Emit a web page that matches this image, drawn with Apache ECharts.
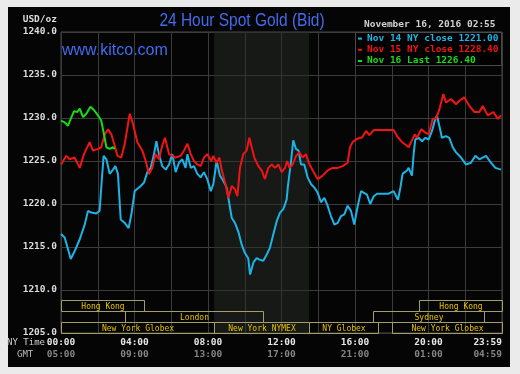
<!DOCTYPE html>
<html>
<head>
<meta charset="utf-8">
<script src="https://cdn.jsdelivr.net/npm/echarts@6/dist/echarts.min.js"></script>
<style>html,body{margin:0;padding:0;background:#ebebeb;}#c{width:520px;height:374px;}</style>
</head>
<body>
<div id="c"></div>
<script>
// ---- data ----
const nov14 = [
[0.00,1216.5],[0.20,1216.1],[0.53,1213.6],[0.74,1214.5],[1.02,1215.9],[1.29,1217.6],[1.47,1219.2],[1.65,1219.0],[1.92,1218.9],[2.10,1219.2],[2.19,1221.9],[2.32,1225.6],[2.47,1225.2],[2.65,1223.5],[2.83,1224.0],[2.96,1224.4],[3.10,1223.5],[3.25,1218.2],[3.47,1217.8],[3.68,1217.2],[3.83,1218.8],[4.01,1221.5],
[4.34,1222.1],[4.52,1222.5],[4.70,1223.7],[4.88,1224.2],[5.06,1225.8],[5.19,1227.3],[5.33,1225.8],[5.51,1224.4],[5.70,1224.0],[5.88,1224.6],[6.06,1225.8],[6.24,1223.7],[6.42,1224.8],[6.60,1225.2],[6.78,1224.2],[6.88,1225.8],[7.06,1224.2],[7.24,1224.4],[7.42,1223.5],[7.60,1223.1],[7.78,1223.7],[7.96,1222.9],[8.15,1221.5],
[8.29,1222.3],[8.47,1225.0],[8.65,1223.3],[8.83,1222.7],[9.02,1221.9],[9.11,1220.7],[9.29,1218.4],[9.47,1217.8],[9.65,1216.8],[9.83,1215.3],[10.01,1214.3],[10.19,1213.7],[10.29,1211.8],[10.47,1213.2],[10.65,1213.7],[10.83,1213.5],[11.01,1213.4],[11.19,1214.1],[11.37,1214.9],[11.56,1216.5],[11.74,1218.0],[11.92,1219.0],[12.10,1219.4],[12.28,1220.5],
[12.34,1221.9],[12.52,1225.0],[12.64,1227.4],[12.79,1226.4],[12.93,1226.2],[13.06,1224.6],[13.24,1224.6],[13.42,1223.1],[13.61,1222.3],[13.79,1221.9],[13.97,1221.3],[14.15,1220.2],[14.33,1220.7],[14.51,1219.8],[14.69,1218.6],[14.88,1217.6],[15.06,1217.8],[15.24,1218.6],[15.42,1218.8],[15.60,1219.8],[15.78,1219.2],[15.96,1217.6],[16.15,1219.8],[16.33,1221.5],
[16.65,1221.1],[16.83,1220.0],[17.02,1220.9],[17.20,1221.2],[17.83,1221.2],[18.10,1221.5],[18.34,1220.5],[18.47,1221.9],[18.59,1223.5],[18.83,1223.9],[18.92,1224.2],[19.10,1223.3],[19.19,1225.8],[19.28,1227.5],[19.46,1227.7],[19.65,1227.3],[19.83,1227.7],[20.01,1227.5],[20.19,1228.5],[20.37,1229.9],[20.46,1230.3],
[20.59,1229.1],[20.73,1227.7],[20.95,1227.9],[21.13,1227.7],[21.32,1226.6],[21.50,1226.0],[21.77,1225.4],[22.04,1224.6],[22.31,1224.8],[22.55,1225.6],[22.77,1225.2],[23.13,1225.6],[23.40,1224.8],[23.64,1224.2],[23.95,1224.0]
];
const nov15 = [
[0.00,1224.6],[0.29,1225.6],[0.47,1225.2],[0.74,1225.4],[1.02,1224.2],[1.25,1225.8],[1.56,1227.2],[1.74,1226.2],[2.01,1226.4],[2.19,1226.6],[2.38,1228.1],[2.56,1228.7],[2.74,1228.1],[2.92,1226.8],[3.07,1225.6],[3.28,1225.4],[3.47,1227.0],[3.74,1230.5],[3.92,1229.3],
[4.15,1227.2],[4.43,1226.2],[4.61,1225.0],[4.79,1223.5],[4.97,1224.2],[5.15,1225.8],[5.33,1225.2],[5.51,1226.8],[5.66,1227.7],[5.88,1225.8],[6.06,1225.6],[6.24,1225.4],[6.51,1225.6],[6.69,1226.2],[6.88,1227.0],[7.06,1225.8],[7.24,1225.0],[7.42,1224.6],[7.60,1224.4],[7.78,1225.4],[7.96,1225.8],[8.18,1225.0],
[8.29,1225.6],[8.47,1224.8],[8.62,1225.4],[8.74,1224.0],[8.93,1222.5],[9.11,1220.7],[9.29,1222.1],[9.47,1221.7],[9.60,1220.9],[9.74,1224.2],[9.92,1225.8],[10.10,1226.2],[10.25,1227.7],[10.38,1226.6],[10.52,1225.4],[10.74,1224.4],[10.92,1223.9],[11.10,1222.9],[11.28,1224.2],[11.47,1224.6],[11.65,1224.2],[11.83,1224.6],[12.01,1223.7],[12.19,1224.2],
[12.31,1225.0],[12.43,1224.2],[12.61,1224.6],[12.79,1225.6],[12.97,1226.0],[13.15,1225.4],[13.33,1225.8],[13.48,1224.8],[13.70,1223.9],[13.97,1222.9],[14.24,1223.3],[14.51,1223.9],[14.79,1224.2],[15.06,1224.2],[15.33,1224.4],[15.60,1224.8],[15.73,1226.6],[15.87,1227.2],[16.05,1227.5],[16.24,1227.7],
[16.38,1227.7],[16.60,1228.5],[16.78,1228.0],[17.02,1228.6],[18.10,1228.6],[18.29,1227.9],[18.56,1227.2],[18.92,1226.6],[19.10,1227.4],[19.25,1228.1],[19.37,1227.7],[19.61,1228.7],[19.83,1228.3],[20.01,1228.1],[20.23,1229.9],[20.41,1229.9],[20.59,1231.0],
[20.81,1232.8],[20.95,1231.8],[21.22,1232.2],[21.50,1231.6],[21.68,1232.0],[21.95,1232.4],[22.22,1231.4],[22.50,1230.7],[22.77,1230.7],[22.95,1231.4],[23.23,1230.3],[23.53,1230.7],[23.77,1229.9],[23.95,1230.3]
];
const nov16 = [
[0.00,1229.7],[0.20,1229.5],[0.38,1229.1],[0.53,1229.9],[0.71,1230.8],[0.89,1230.7],[1.02,1231.1],[1.20,1230.1],[1.38,1230.5],[1.60,1231.3],[1.80,1230.9],[2.01,1230.3],[2.19,1229.7],[2.34,1228.1],[2.47,1226.6],[2.65,1226.4],[2.83,1226.6],[2.92,1226.4]
];
const seriesNames = ['Nov 14 NY close 1221.00','Nov 15 NY close 1228.40','Nov 16 Last 1226.40'];
const xTicks = [0,4,8,12,16,20,24];
const nyLabels = ['00:00','04:00','08:00','12:00','16:00','20:00','23:59'];
const gmtLabels = ['05:00','09:00','13:00','17:00','21:00','01:00','04:59'];
const sessionNames = ['Hong Kong','Hong Kong','London','Sydney','New York Globex','New York NYMEX','NY Globex','New York Globex'];
const sessionStart = [0,19.5,3.5,17,0,8.333,13.5,18];
const sessionEnd = [4.5,24,11,23,8.333,13.5,17.25,24];
const sessionRow = [0,0,1,1,2,2,2,2];
const nymexOpen = 8.333, nymexClose = 13.5;
const yMin = 1205, yMax = 1240, yStep = 5;

// ---- styles ----
const MONO = '"DejaVu Sans Mono", "Liberation Mono", monospace';
const colors = ['#1cb4e6','#f21414','#16dc16'];
const chart = echarts.init(document.getElementById('c'), null, {renderer:'canvas'});

const sessionData = sessionNames.map((n,i)=>({name:n, value:[sessionStart[i], sessionEnd[i], sessionRow[i]]}));

function renderSession(params, api){
  const s = api.value(0), e = api.value(1), row = api.value(2);
  const pb = api.coord([0, yMin]);
  const p0 = api.coord([s, yMin]);
  const p1 = api.coord([e, yMin]);
  const rowH = 11;
  const top = Math.round(pb[1] - (3-row)*rowH) + 0.5;
  const x0 = Math.round(p0[0]) + 0.5, x1 = Math.round(p1[0]) + 0.5;
  return {
    type:'group',
    children:[
      {type:'rect', shape:{x:x0, y:top, width:x1-x0, height:rowH}, style:{fill:null, stroke:'#a39d68', lineWidth:1}},
      {type:'text', x:(x0+x1)/2, y:top+rowH/2+0.5, style:{text:sessionNames[params.dataIndex], fill:'#e6c200', font:'8px '+MONO, align:'center', verticalAlign:'middle'}}
    ]
  };
}

const option = {
  animation:false,
  backgroundColor:'#ebebeb',
  grid:{left:61, right:18, top:32, bottom:41, show:true, borderColor:'#4a4a4a', borderWidth:1, backgroundColor:'transparent'},
  xAxis:{
    type:'value', min:0, max:24, interval:2,
    axisLine:{show:false}, axisTick:{show:false},
    splitLine:{show:true, lineStyle:{color:'#3b3b3b', width:1}},
    axisLabel:{
      margin:4, showMinLabel:true, showMaxLabel:true, alignMaxLabel:'right',
      formatter:(v)=>{ const i = xTicks.indexOf(v); return i<0 ? '' : '{a|'+nyLabels[i]+'}\n{b|'+gmtLabels[i]+'}'; },
      rich:{
        a:{color:'#e6e6e6', fontFamily:MONO, fontSize:9.5, fontWeight:'bold', lineHeight:12},
        b:{color:'#858585', fontFamily:MONO, fontSize:9.5, fontWeight:'bold', lineHeight:12}
      }
    }
  },
  yAxis:{
    type:'value', min:yMin, max:yMax, interval:yStep,
    axisLine:{show:false}, axisTick:{show:false},
    splitLine:{show:true, lineStyle:{color:'#3b3b3b', width:1}},
    axisLabel:{margin:4, color:'#dcdcdc', fontFamily:MONO, fontSize:9.5, fontWeight:'bold', formatter:(v)=>v.toFixed(1)}
  },
  legend:{
    orient:'vertical', left:358, top:32, padding:[1,0,0,0], itemGap:0, itemWidth:4, itemHeight:2, icon:'rect',
    selectedMode:false,
    textStyle:{fontFamily:MONO, fontSize:9.5, fontWeight:'bold', lineHeight:11.2, padding:[0,0,0,0]},
    data:seriesNames.map((n,i)=>({name:n, textStyle:{color:colors[i]}}))
  },
  graphic:{elements:[
    {type:'rect', z:-100, shape:{x:8, y:7, width:502, height:360}, style:{fill:'#050505'}},
    {type:'rect', z:3, shape:{x:355.5, y:32.5, width:146, height:33}, style:{fill:'#000', stroke:'#4a4a4a', lineWidth:1}},
    {type:'text', x:242, y:21, scaleX:0.86, style:{text:'24 Hour Spot Gold (Bid)', fill:'#426cf0', font:'18px "Liberation Sans", Arial, sans-serif', align:'center', verticalAlign:'middle'}},
    {type:'text', x:62, y:51, style:{text:'www.kitco.com', fill:'#426cf0', font:'16px "Liberation Sans", Arial, sans-serif', align:'left', verticalAlign:'middle'}},
    {type:'text', x:57, y:20, style:{text:'USD/oz', fill:'#dcdcdc', font:'bold 9.5px '+MONO, align:'right', verticalAlign:'middle'}},
    {type:'text', x:364, y:25, style:{text:'November 16, 2016 02:55', fill:'#d0d0d0', font:'bold 9.5px '+MONO, align:'left', verticalAlign:'middle'}},
    {type:'text', x:45, y:343, style:{text:'NY Time', fill:'#d0d0d0', font:'9px '+MONO, align:'right', verticalAlign:'middle'}},
    {type:'text', x:17, y:355, style:{text:'GMT', fill:'#bdbdbd', font:'9px '+MONO, align:'left', verticalAlign:'middle'}}
  ]},
  series:[
    {name:seriesNames[0], type:'line', data:nov14, showSymbol:false, color:colors[0], lineStyle:{width:2, color:colors[0]}, z:2,
      markArea:{silent:true, itemStyle:{color:'rgba(40,46,40,0.5)'}, data:[[{xAxis:nymexOpen},{xAxis:nymexClose}]]}},
    {name:seriesNames[1], type:'line', data:nov15, showSymbol:false, color:colors[1], lineStyle:{width:2, color:colors[1]}, z:2},
    {name:seriesNames[2], type:'line', data:nov16, showSymbol:false, color:colors[2], lineStyle:{width:2, color:colors[2]}, z:2},
    {type:'custom', renderItem:renderSession, data:sessionData, silent:true, clip:false, z:2, encode:{x:[0,1], y:[]}}
  ]
};
chart.setOption(option);
</script>
</body>
</html>
